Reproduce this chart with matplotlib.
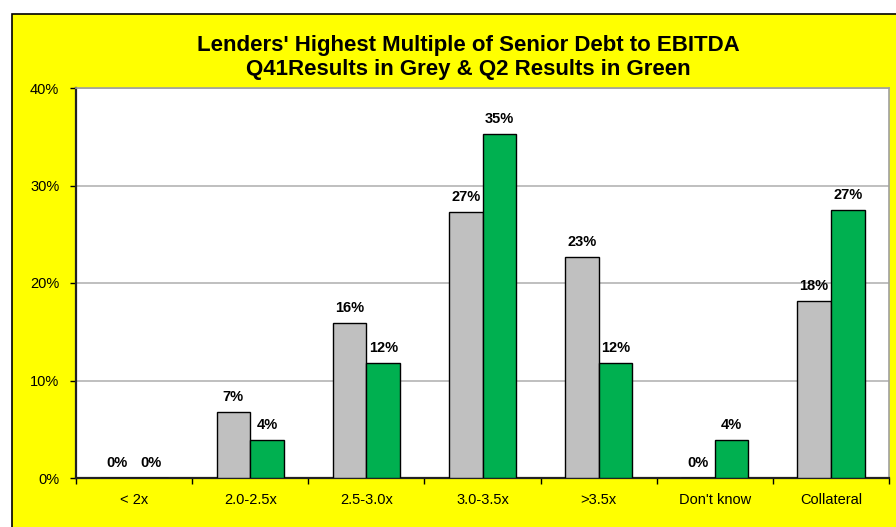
import matplotlib
matplotlib.use("Agg")
import matplotlib.pyplot as plt
import numpy as np
from matplotlib.patches import Rectangle

plt.rcParams['font.family'] = ['Liberation Sans', 'DejaVu Sans']

categories = ["< 2x", "2.0-2.5x", "2.5-3.0x", "3.0-3.5x", ">3.5x", "Don't know", "Collateral"]
q1_grey = [0.0, 6.8, 15.9, 27.3, 22.7, 0.0, 18.2]
q2_green = [0.0, 3.9, 11.8, 35.3, 11.8, 3.9, 27.5]
q1_labels = ["0%", "7%", "16%", "27%", "23%", "0%", "18%"]
q2_labels = ["0%", "4%", "12%", "35%", "12%", "4%", "27%"]
yticks = [0, 10, 20, 30, 40]

W, H = 896, 527
fig = plt.figure(figsize=(W / 100, H / 100), dpi=100)
fig.patch.set_facecolor("white")

# yellow frame behind everything
bg = fig.add_axes([0, 0, 1, 1], zorder=-10)
bg.set_xlim(0, W)
bg.set_ylim(H, 0)
bg.axis("off")
bg.add_patch(Rectangle((12, 14), W + 20, H + 20, facecolor="#ffff00", edgecolor="black", lw=1.2))

ax = fig.add_axes([76 / W, (H - 478) / H, 813 / W, 390 / H])
ax.set_facecolor("white")

x = np.arange(len(categories))
bw = 0.29
ax.bar(x - bw / 2, q1_grey, bw, color="#c0c0c0", edgecolor="black", lw=1.0, zorder=3)
ax.bar(x + bw / 2, q2_green, bw, color="#00b050", edgecolor="black", lw=1.0, zorder=3)

for i in range(len(categories)):
    ax.annotate(q1_labels[i], (x[i] - bw / 2, q1_grey[i]), xytext=(0, 5.5), textcoords="offset points",
                ha="center", va="bottom", fontsize=10.5, fontweight="bold")
    ax.annotate(q2_labels[i], (x[i] + bw / 2, q2_green[i]), xytext=(0, 5.5), textcoords="offset points",
                ha="center", va="bottom", fontsize=10.5, fontweight="bold")

ax.set_xlim(-0.5, len(categories) - 0.5)
ax.set_ylim(0, 40)
ax.set_yticks(yticks)
ax.set_yticklabels([f"{v}%" for v in yticks], fontsize=10.5)
ax.grid(axis="y", color="#b4b4b4", lw=1.2, zorder=0)

ax.set_xticks(x)
ax.set_xticklabels(categories, fontsize=10.5)
ax.set_xticks(np.arange(len(categories) + 1) - 0.5, minor=True)
ax.tick_params(axis="x", which="major", length=0, pad=11)
ax.tick_params(axis="x", which="minor", length=4, width=1, direction="out")
ax.tick_params(axis="y", length=4, width=1, direction="out", pad=8)

for s in ["left", "bottom"]:
    ax.spines[s].set_color("#222222")
    ax.spines[s].set_linewidth(1.6)
for s in ["top", "right"]:
    ax.spines[s].set_color("#a0a0a0")
    ax.spines[s].set_linewidth(1.2)

fig.text(468 / W, 1 - 45 / H, "Lenders' Highest Multiple of Senior Debt to EBITDA",
         ha="center", va="center", fontsize=16, fontweight="bold")
fig.text(468 / W, 1 - 70 / H, "Q41Results in Grey & Q2 Results in Green",
         ha="center", va="center", fontsize=16, fontweight="bold")

fig.savefig("out.png", dpi=100, facecolor=fig.get_facecolor())
